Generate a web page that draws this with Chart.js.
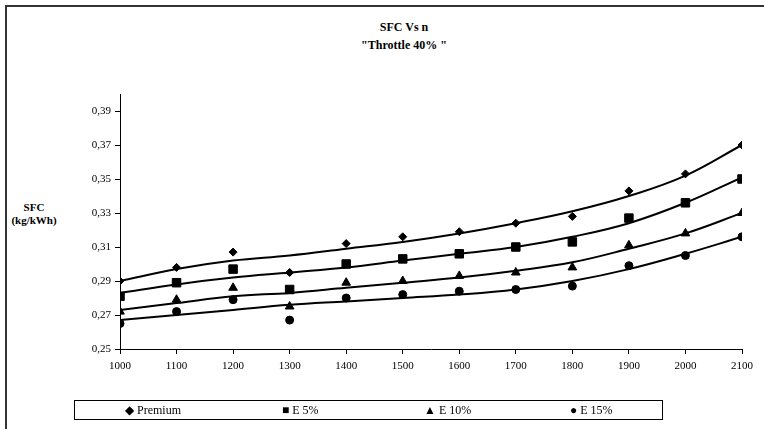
<!DOCTYPE html>
<html lang="en">
<head>
  <meta charset="UTF-8">
  <title>SFC Vs n</title>
  <style>
    body {
      margin: 0;
      width: 764px;
      height: 429px;
      overflow: hidden;
      background: #fff;
      font-family: "Liberation Serif", serif;
      position: relative;
    }
    .frame {
      position: absolute;
      left: 5px;
      top: 5px;
      width: 800px;
      height: 460px;
      border-top: 2px solid #333;
      border-left: 2px solid #333;
    }
    .title {
      position: absolute;
      left: 304px;
      width: 200px;
      text-align: center;
      font-weight: bold;
      font-size: 12px;
    }
    .ytitle {
      position: absolute;
      left: 2px;
      top: 201px;
      width: 64px;
      text-align: center;
      font-weight: bold;
      font-size: 11px;
      line-height: 13px;
    }
    canvas {
      position: absolute;
      left: 0;
      top: 0;
    }
    .legend {
      position: absolute;
      left: 74px;
      top: 400px;
      width: 587px;
      height: 18px;
      border: 1px solid #000;
      font-size: 12px;
    }
    .legend span {
      position: absolute;
      top: 2px;
      white-space: nowrap;
    }
  </style>
</head>
<body>
  <div class="frame"></div>
  <div class="title" style="top:20px">SFC Vs n</div>
  <div class="title" style="top:38px">"Throttle 40% "</div>
  <div class="ytitle">SFC<br>(kg/kWh)</div>
  <canvas id="myChart" width="764" height="429"></canvas>
  <div class="legend">
    <span style="left:50px">&#9670; Premium</span>
    <span style="left:207px">&#9632; E 5%</span>
    <span style="left:349px">&#9650; E 10%</span>
    <span style="left:495px">&#9679; E 15%</span>
  </div>

  <script src="https://cdn.jsdelivr.net/npm/chart.js"></script>
  <script>
    // rpm
    const rpm = [1000, 1100, 1200, 1300, 1400, 1500, 1600, 1700, 1800, 1900, 2000, 2100];
    const yTicks = [0.25, 0.27, 0.29, 0.31, 0.33, 0.35, 0.37, 0.39];

    // medidos
    const premium = [0.290, 0.298, 0.307, 0.295, 0.312, 0.316, 0.319, 0.324, 0.328, 0.343, 0.353, 0.370];
    const e5 = [0.281, 0.289, 0.297, 0.285, 0.300, 0.303, 0.306, 0.310, 0.313, 0.327, 0.336, 0.350];
    const e10 = [0.272, 0.279, 0.286, 0.275, 0.289, 0.290, 0.293, 0.295, 0.298, 0.311, 0.318, 0.330];
    const e15 = [0.265, 0.272, 0.279, 0.267, 0.280, 0.282, 0.284, 0.285, 0.287, 0.299, 0.305, 0.316];

    // linea de tendencia
    const premiumTrend = [0.290, 0.297, 0.302, 0.305, 0.309, 0.313, 0.318, 0.324, 0.331, 0.340, 0.352, 0.370];
    const e5Trend = [0.283, 0.288, 0.292, 0.295, 0.298, 0.302, 0.306, 0.310, 0.316, 0.324, 0.336, 0.351];
    const e10Trend = [0.273, 0.277, 0.281, 0.283, 0.286, 0.289, 0.292, 0.296, 0.301, 0.309, 0.318, 0.330];
    const e15Trend = [0.267, 0.270, 0.273, 0.276, 0.278, 0.280, 0.282, 0.285, 0.290, 0.297, 0.306, 0.316];

    function puntos(arr) {
      return rpm.map((x, i) => ({ x: x, y: arr[i] }));
    }

    function marcas(arr, estilo, radio) {
      return {
        data: puntos(arr),
        showLine: false,
        pointStyle: estilo,
        pointRadius: radio,
        pointBackgroundColor: '#000',
        pointBorderColor: '#000',
        pointBorderWidth: 1
      };
    }

    function tendencia(arr) {
      return {
        data: puntos(arr),
        showLine: true,
        borderColor: '#000',
        borderWidth: 2,
        pointRadius: 0,
        tension: 0.4
      };
    }

    const ctx = document.getElementById('myChart').getContext('2d');
    new Chart(ctx, {
      type: 'scatter',
      data: {
        datasets: [
          tendencia(premiumTrend),
          tendencia(e5Trend),
          tendencia(e10Trend),
          tendencia(e15Trend),
          marcas(premium, 'rectRot', 4),
          marcas(e5, 'rect', 6),
          marcas(e10, 'triangle', 5),
          marcas(e15, 'circle', 4)
        ]
      },
      options: {
        responsive: false,
        animation: false,
        layout: { padding: { left: 0, top: 94, right: 22, bottom: 50 } },
        plugins: {
          legend: { display: false },
          title: { display: false },
          tooltip: { enabled: false }
        },
        scales: {
          x: {
            type: 'linear',
            min: 1000,
            max: 2100,
            afterFit: function(scale) { scale.height = 30; },
            ticks: {
              stepSize: 100,
              color: '#000',
              padding: 6,
              font: { family: 'Liberation Serif', size: 11 },
              callback: function(value) { return String(value); }
            },
            grid: { drawOnChartArea: false, color: '#000', tickLength: 5 },
            border: { color: '#000', width: 1 }
          },
          y: {
            min: 0.25,
            max: 0.40,
            afterFit: function(scale) { scale.width = 120; },
            afterBuildTicks: function(scale) {
              scale.ticks = yTicks.map(v => ({ value: v }));
            },
            ticks: {
              color: '#000',
              padding: 4,
              font: { family: 'Liberation Serif', size: 11 },
              callback: function(value) {
                return value.toFixed(2).replace('.', ',');
              }
            },
            grid: { drawOnChartArea: false, color: '#000', tickLength: 5 },
            border: { color: '#000', width: 1 }
          }
        }
      }
    });
  </script>
</body>
</html>
